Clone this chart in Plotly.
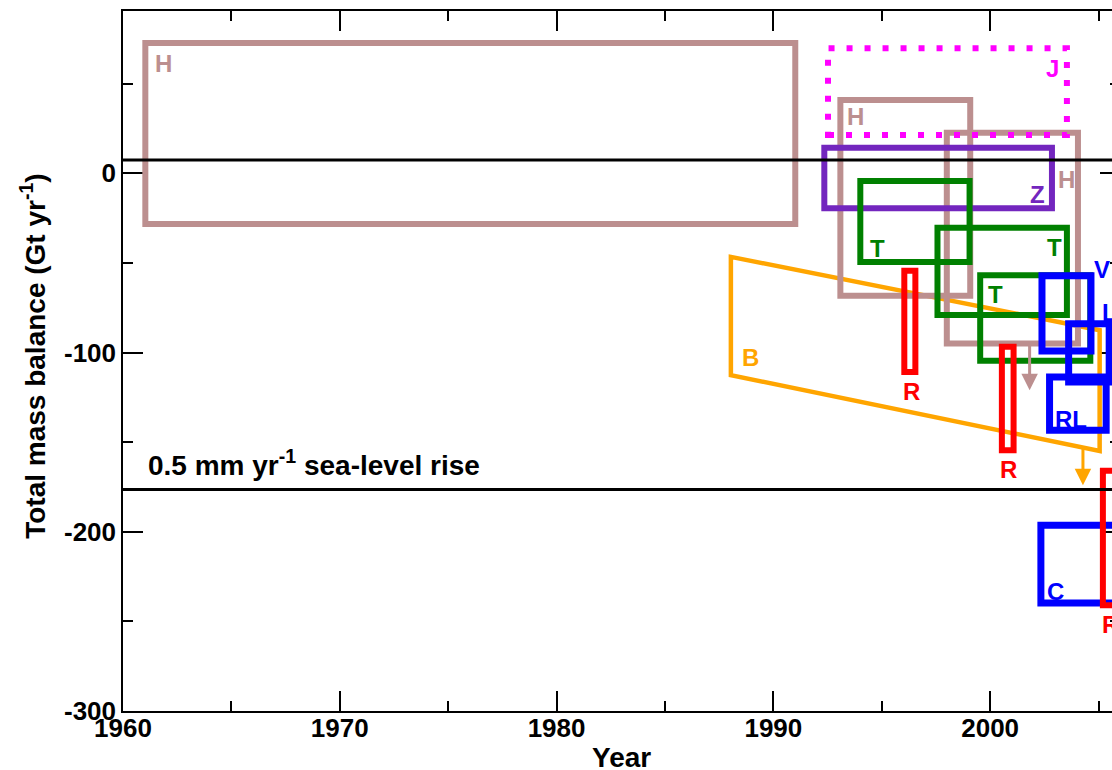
import plotly.graph_objects as go

# ---------------- data ----------------
box_names = ["H1", "H2", "H3", "J", "Z", "T1", "T2", "T3", "R1", "R2", "V", "L", "RL", "C", "R3"]
box_source = ["H", "H", "H", "J", "Z", "T", "T", "T", "R", "R", "V", "L", "RL", "C", "R"]
box_x0 = [1961.03, 1993.09, 1998.00, 1992.52, 1992.35, 1994.01, 1997.57, 1999.54, 1996.04, 2000.54, 2002.39, 2003.62, 2002.74, 2002.34, 2005.20]
box_x1 = [1991.01, 1999.08, 2004.05, 2003.54, 2002.85, 1999.05, 2003.54, 2004.62, 1996.55, 2001.08, 2004.65, 2005.49, 2005.35, 2006.50, 2005.90]
box_ylo = [-28.3, -68.3, -94.9, 21.4, -19.5, -49.4, -79.1, -104.6, -110.8, -154.5, -99.1, -116.4, -143.3, -239.8, -241.0]
box_yhi = [72.8, 40.9, 22.7, 69.8, 14.3, -4.3, -30.4, -56.8, -54.4, -96.8, -57.2, -83.9, -113.6, -196.4, -166.0]

# B: parallelogram (two years, upper and lower bounds)
b_x = [1988.04, 2005.05]
b_upper = [-46.6, -87.5]
b_lower = [-112.6, -154.9]

# labels: text, source, position
label_text = ["H", "J", "H", "H", "Z", "T", "T", "T", "R", "R", "R", "B", "V", "L", "RL", "C"]
label_source = ["H", "J", "H", "H", "Z", "T", "T", "T", "R", "R", "R", "B", "V", "L", "RL", "C"]
label_x = [1961.87, 2002.86, 1993.78, 2003.53, 2002.17, 1994.78, 2002.96, 2000.24, 1996.37, 2000.83, 2005.54, 1988.94, 2005.16, 2005.50, 2003.74, 2003.03]
label_y = [62.3, 59.9, 33.1, -2.1, -10.7, -40.6, -40.3, -66.3, -120.4, -164.0, -250.8, -101.7, -52.6, -76.6, -136.0, -232.0]

# arrows (lower-limit indicators): source, x, start, end
arrow_source = ["H", "B"]
arrow_x = [2001.82, 2004.28]
arrow_from = [-94.9, -153.0]
arrow_to = [-121.0, -174.0]

# reference horizontal lines
ref_lines = [7.4, -176.4]
slr_text = "0.5 mm yr<sup>-1</sup> sea-level rise"
slr_x, slr_y = 1961.07, -161.8

x_range = [1960, 2005.62]
y_range = [-300, 90.6]
x_ticks = [1960, 1970, 1980, 1990, 2000]
y_ticks = [-300, -200, -100, 0]
y_ticktext = ["-300", "-200", "-100", "0"]

# ---------------- styles ----------------
colors = {"H": "#bc8f8f", "J": "#ff00ff", "Z": "#7326be", "T": "#008000",
          "R": "#ff0000", "B": "#ffa500", "V": "#0000ff", "L": "#0000ff",
          "RL": "#0000ff", "C": "#0000ff"}
widths = {"H": 6, "J": 6, "Z": 6, "T": 6, "R": 6, "B": 4.5, "V": 7, "L": 7, "RL": 7, "C": 7}
FONT = "Liberation Sans, Arial, Helvetica, sans-serif"

fig = go.Figure()
# invisible traces to establish axes
fig.add_trace(go.Scatter(x=[x_range[0]], y=[0], mode="markers", marker=dict(opacity=0),
                         hoverinfo="skip", showlegend=False))
fig.add_trace(go.Scatter(x=[x_range[0]], y=[0], mode="markers", marker=dict(opacity=0),
                         hoverinfo="skip", showlegend=False, yaxis="y2"))

# B parallelogram
path = "M {},{} L {},{} L {},{} L {},{} Z".format(
    b_x[0], b_upper[0], b_x[1], b_upper[1], b_x[1], b_lower[1], b_x[0], b_lower[0])
fig.add_shape(type="path", path=path, xref="x", yref="y",
              line=dict(color=colors["B"], width=widths["B"]), fillcolor="rgba(0,0,0,0)", layer="above")

for name, src, x0, x1, y0, y1 in zip(box_names, box_source, box_x0, box_x1, box_ylo, box_yhi):
    line = dict(color=colors[src], width=widths[src])
    if src == "J":
        line["dash"] = "6px,12px"
    fig.add_shape(type="rect", xref="x", yref="y", x0=x0, x1=x1, y0=y0, y1=y1,
                  line=line, fillcolor="rgba(0,0,0,0)", layer="above")

for y in ref_lines:
    fig.add_shape(type="line", xref="paper", yref="y", x0=0, x1=1, y0=y, y1=y,
                  line=dict(color="black", width=3), layer="above")

for t, src, x, y in zip(label_text, label_source, label_x, label_y):
    fig.add_annotation(x=x, y=y, xref="x", yref="y", text=t, showarrow=False,
                       xanchor="center", yanchor="middle", yshift=-2,
                       font=dict(family=FONT, size=24, color=colors[src], weight="bold"))

# arrows: annotation arrows from start to tip
for src, x, a, b in zip(arrow_source, arrow_x, arrow_from, arrow_to):
    fig.add_annotation(x=x, y=b, ax=x, ay=a, xref="x", yref="y", axref="x", ayref="y",
                       text="", showarrow=True, arrowhead=2, arrowsize=1.1, arrowwidth=3,
                       arrowcolor=colors[src], standoff=0, startstandoff=0)

fig.add_annotation(x=slr_x, y=slr_y, xref="x", yref="y", text=slr_text, showarrow=False,
                   xanchor="left", yanchor="middle",
                   font=dict(family=FONT, size=28, color="black", weight="bold"))

# axis titles
fig.add_annotation(x=0, y=0.506, xref="paper", yref="paper", xshift=-90, text="Total mass balance (Gt yr<sup>-1</sup>)",
                   textangle=-90, showarrow=False, xanchor="center", yanchor="middle",
                   font=dict(family=FONT, size=28, color="black", weight="bold"))
fig.add_annotation(x=1983, y=0, xref="x", yref="paper", yshift=-46, text="Year",
                   showarrow=False, xanchor="center", yanchor="middle",
                   font=dict(family=FONT, size=28, color="black", weight="bold"))

fig.update_layout(
    width=1112, height=770,
    margin=dict(l=123, r=0, t=11, b=59),
    plot_bgcolor="white", paper_bgcolor="white",
    showlegend=False,
    font=dict(family=FONT),
    xaxis=dict(range=x_range, tickmode="array", tickvals=x_ticks, ticks="inside", ticklen=20,
               tickwidth=1.5, tickcolor="black", showline=True, linecolor="black", linewidth=1.5,
               mirror="ticks", showgrid=False, zeroline=False, ticklabelstandoff=-7,
               tickfont=dict(family=FONT, size=26, color="black", weight="bold"),
               minor=dict(tick0=1960, dtick=5, ticks="inside", ticklen=10, tickwidth=1.5, tickcolor="black")),
    yaxis=dict(range=y_range, tickmode="array", tickvals=y_ticks, ticktext=y_ticktext, ticks="inside",
               ticklen=20, tickwidth=1.5, tickcolor="black", showline=True, linecolor="black",
               linewidth=1.5, mirror=False, showgrid=False, zeroline=False,
               tickfont=dict(family=FONT, size=26, color="black", weight="bold"),
               minor=dict(tick0=0, dtick=50, ticks="inside", ticklen=10, tickwidth=1.5, tickcolor="black")),
    yaxis2=dict(range=y_range, overlaying="y", side="right", tickmode="array", tickvals=y_ticks,
                ticks="inside", ticklen=12, tickwidth=1.5, tickcolor="black", showline=False,
                showticklabels=False, showgrid=False, zeroline=False,
                minor=dict(tick0=0, dtick=50, ticks="inside", ticklen=2, tickwidth=1.5, tickcolor="black")),
)

fig.write_html("out.html", config={"displayModeBar": False},
               post_script="document.body.style.margin='0';document.body.style.overflow='hidden';"
                           "document.documentElement.style.overflow='hidden';")
